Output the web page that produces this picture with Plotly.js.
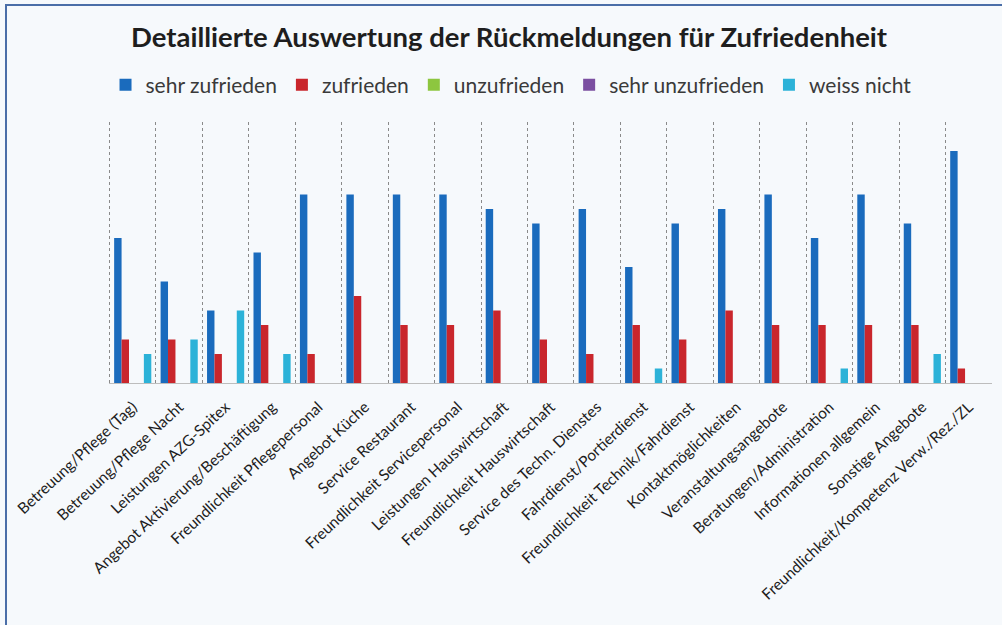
<!DOCTYPE html>
<html>
<head>
<meta charset="utf-8">
<script src="https://cdn.plot.ly/plotly-3.0.1.min.js"></script>
<style>
  html, body { margin: 0; padding: 0; background: #f6f9fc; }
  #wrap { position: relative; width: 1002px; height: 625px; overflow: hidden; }
  #chart { position: absolute; left: 0; top: 0; width: 1002px; height: 625px; }
  #frame { position: absolute; left: 5px; top: 4px; width: 1100px; height: 700px;
           border-top: 2px solid #4a6ea8; border-left: 2px solid #4a6ea8; pointer-events: none; }
</style>
</head>
<body>
<div id="wrap">
  <div id="chart"></div>
  <div id="frame"></div>
</div>
<script>
const categories = [
  "Betreuung/Pflege (Tag)",
  "Betreuung/Pflege Nacht",
  "Leistungen AZG-Spitex",
  "Angebot Aktivierung/Beschäftigung",
  "Freundlichkeit Pflegepersonal",
  "Angebot Küche",
  "Service Restaurant",
  "Freundlichkeit Servicepersonal",
  "Leistungen Hauswirtschaft",
  "Freundlichkeit Hauswirtschaft",
  "Service des Techn. Dienstes",
  "Fahrdienst/Portierdienst",
  "Freundlichkeit Technik/Fahrdienst",
  "Kontaktmöglichkeiten",
  "Veranstaltungsangebote",
  "Beratungen/Administration",
  "Informationen allgemein",
  "Sonstige Angebote",
  "Freundlichkeit/Kompetenz Verw./Rez./ZL"
];
const sehrZufrieden   = [10, 7, 5, 9, 13, 13, 13, 13, 12, 11, 12, 8, 11, 12, 13, 10, 13, 11, 16];
const zufrieden       = [3, 3, 2, 4, 2, 6, 4, 4, 5, 3, 2, 4, 3, 5, 4, 4, 4, 4, 1];
const unzufrieden     = [0, 0, 0, 0, 0, 0, 0, 0, 0, 0, 0, 0, 0, 0, 0, 0, 0, 0, 0];
const sehrUnzufrieden = [0, 0, 0, 0, 0, 0, 0, 0, 0, 0, 0, 0, 0, 0, 0, 0, 0, 0, 0];
const weissNicht      = [2, 3, 5, 2, 0, 0, 0, 0, 0, 0, 0, 1, 0, 0, 0, 1, 0, 2, 0];

const seriesNames = ["sehr zufrieden", "zufrieden", "unzufrieden", "sehr unzufrieden", "weiss nicht"];
const seriesData = [sehrZufrieden, zufrieden, unzufrieden, sehrUnzufrieden, weissNicht];
const fills = ["#1a6bbd", "#c9262c", "#8dc63f", "#7b4fa1", "#2cb2d8"];

const traces = seriesNames.map((name, i) => ({
  type: "bar",
  name: name,
  x: categories,
  y: seriesData[i],
  marker: { color: fills[i], line: { width: 0 } },
  hoverinfo: "x+y+name"
}));

const fontFam = "Lato, 'Open Sans', sans-serif";

const layout = {
  width: 1002,
  height: 625,
  paper_bgcolor: "#f6f9fc",
  plot_bgcolor: "#f6f9fc",
  margin: { l: 109, r: 10, t: 122, b: 242 },
  barmode: "group",
  bargap: 0.2,
  bargroupgap: 0,
  title: {
    text: "<b>Detaillierte Auswertung der Rückmeldungen für Zufriedenheit</b>",
    font: { family: fontFam, size: 27.5, color: "#1e1e1e" },
    x: 0.508, xanchor: "center", xref: "container",
    y: 0.94, yanchor: "middle", yref: "container"
  },
  legend: {
    orientation: "h",
    x: 0.51, xanchor: "center", xref: "container",
    y: 0.864, yanchor: "middle", yref: "container",
    font: { family: fontFam, size: 21, color: "#3a3a3a" },
    bgcolor: "rgba(0,0,0,0)",
    itemwidth: 30,
    traceorder: "normal"
  },
  xaxis: {
    type: "category",
    tickson: "boundaries",
    showgrid: true,
    gridcolor: "#8a8a8a",
    griddash: "dot",
    gridwidth: 1,
    showline: true,
    linecolor: "#bdbdbd",
    linewidth: 1,
    ticks: "",
    tickangle: -43,
    ticklabelstandoff: 8,
    tickfont: { family: fontFam, size: 15.5, color: "#1e1e1e" },
    automargin: false
  },
  yaxis: {
    range: [0, 18],
    visible: false,
    showgrid: false,
    zeroline: false,
    fixedrange: true
  },
  shapes: [
    { type: "line", xref: "x", yref: "paper", x0: -0.5, x1: -0.5, y0: 0, y1: 1,
      line: { color: "#8a8a8a", width: 1, dash: "dot" } }
  ],
  showlegend: true
};

Plotly.newPlot("chart", traces, layout, { displayModeBar: false, staticPlot: true });
</script>
</body>
</html>
